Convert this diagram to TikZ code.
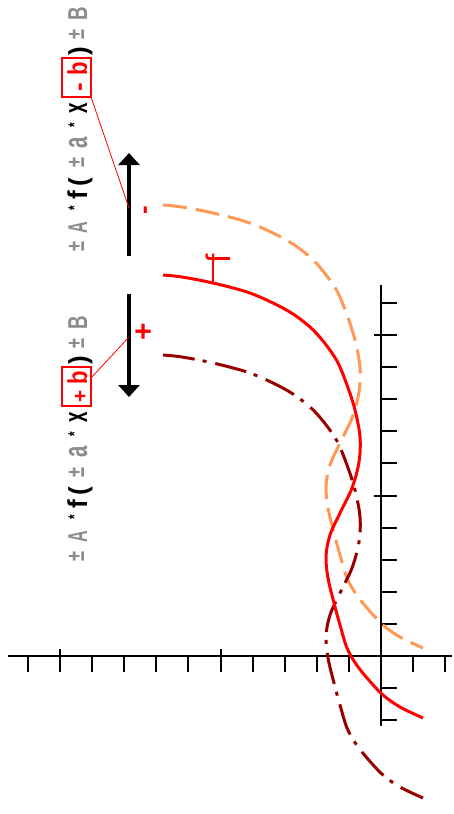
\documentclass[tikz,border=0pt]{standalone}
\usepackage{fontspec}
\setmainfont{Liberation Sans}
\usetikzlibrary{arrows.meta,calc}
\definecolor{txtgray}{HTML}{8C8C8C}
\definecolor{curveorange}{HTML}{FF9955}
\definecolor{curvedark}{HTML}{990000}
\newcommand\glyph[7]{\node[gl,text=#4] (#1) at (#2,#3) {\scalebox{#5}[#6]{#7}};}
\newcommand\smallstar{{\fontsize{17}{17}\selectfont *}}
\newcommand\formula[2]{%
  \glyph{pmA}{84}{247}{txtgray}{0.7}{0.95}{±}
  \glyph{A}{87}{228}{txtgray}{0.62}{1.05}{A}
  \glyph{st1}{80}{208}{black}{0.7}{1}{\smallstar}
  \glyph{f}{87}{195}{black}{1}{1.05}{f}
  \glyph{lp}{87}{182}{black}{1}{1}{(}
  \glyph{pma}{84}{163}{txtgray}{0.7}{0.95}{±}
  \glyph{a}{87}{143}{txtgray}{0.78}{1.3}{a}
  \glyph{st2}{80}{125}{black}{0.7}{1}{\smallstar}
  \glyph{x}{87}{108}{black}{0.72}{1.3}{x}
  \glyph{sg}{87}{87}{red}{#2}{#2}{#1}
  \glyph{b}{87}{69}{red}{0.85}{1.05}{b}
  \glyph{rp}{87}{51}{black}{1}{1}{)}
  \glyph{pmB}{84}{35}{txtgray}{0.7}{0.95}{±}
  \glyph{B}{87}{14}{txtgray}{0.72}{1.05}{B}
  \node[signbox] (box) at (76.5,77.5) {};
}
\begin{document}
\begin{tikzpicture}[x=1pt,y=-1pt,
  gl/.style={rotate=90,anchor=base,inner sep=0pt,outer sep=0pt,
    font=\fontsize{26}{26}\selectfont\bfseries},
  signbox/.style={draw=red,line width=1.5pt,minimum width=29pt,minimum height=39pt,
    inner sep=0pt,outer sep=0pt},
  axline/.style={line width=2pt,black},
  axtick/.style={line width=2pt,black},
  redcurve/.style={line width=3pt,red,line join=round},
  orangecurve/.style={line width=3pt,curveorange,dash pattern=on 24pt off 9pt},
  darkcurve/.style={line width=3pt,curvedark,dash pattern=on 32pt off 8pt on 4pt off 9pt},
  bigarrow/.style={line width=4pt,black,-{Triangle[width=21pt,length=12pt]}},
  leader/.style={red,line width=0.8pt},
  outsign/.style={rotate=90,anchor=base,inner sep=0pt,outer sep=0pt,text=red,
    font=\bfseries}
]
\useasboundingbox (0,0) rectangle (453,814);

% axes
\coordinate (hx0) at (8,656);
\coordinate (hx1) at (452,656);
\coordinate (vy0) at (381,285);
\coordinate (vy1) at (381,726);
\draw[axline] (hx0) -- (hx1);
\draw[axline] (vy0) -- (vy1);
\foreach \k in {1,...,11,-1,-2} {
  \draw[axtick] ({381-32.1*\k},656) -- ({381-32.1*\k},672);
  \draw[axtick] (381,{656-32.1*\k}) -- (397,{656-32.1*\k});
}
\foreach \k in {5,10} {
  \draw[axtick] ({381-32.1*\k},649) -- ({381-32.1*\k},656);
  \draw[axtick] (374,{656-32.1*\k}) -- (381,{656-32.1*\k});
}

% curves
\foreach \s/\st in {-70/orangecurve, 80/darkcurve, 0/redcurve} {
  \draw[\st, shift={(0,\s)}] plot[smooth, tension=0.55] coordinates {
    (163,275) (182,277) (213,283) (247,292) (273,303) (293,314) (310,327)
    (323,341) (337,361) (347,385) (355,410) (360,437) (359,462) (352,488)
    (340,513) (330,535) (326,556) (328,578) (334,603) (340,625) (347,648)
    (356,664) (367,678) (383,695) (400,707) (423,718)};
}

% f label
\coordinate (fc) at (213,283);
\coordinate (fl) at (213,262);
\draw[red,line width=2pt] (fc) -- (fl);
\node[rotate=90,anchor=base,inner sep=0pt,text=red,font=\fontsize{34}{34}\selectfont] (flab) at (230,259) {f};

% arrows
\coordinate (aTb) at (129,256);
\coordinate (aTt) at (129,153);
\coordinate (aBt) at (129,294);
\coordinate (aBb) at (129,397);
\draw[bigarrow] (aTb) -- (aTt);
\draw[bigarrow] (aBt) -- (aBb);

% formulas
\formula{-}{1}
\begin{scope}[shift={(0,309)}, name prefix=lo-]
  \formula{+}{0.8}
\end{scope}

% signs next to arrows and connectors
\coordinate (pT) at (129,208);
\coordinate (pB) at (129,337);
\node[outsign,font=\fontsize{26}{26}\selectfont\bfseries] (minusT) at (152,210) {-};
\node[outsign,font=\fontsize{30}{30}\selectfont\bfseries] (plusB) at (153,332) {+};
\draw[leader] (box.south east) -- (pT);
\draw[leader] ($(lo-box.north east)+(0,11)$) -- (pB);
\end{tikzpicture}
\end{document}
